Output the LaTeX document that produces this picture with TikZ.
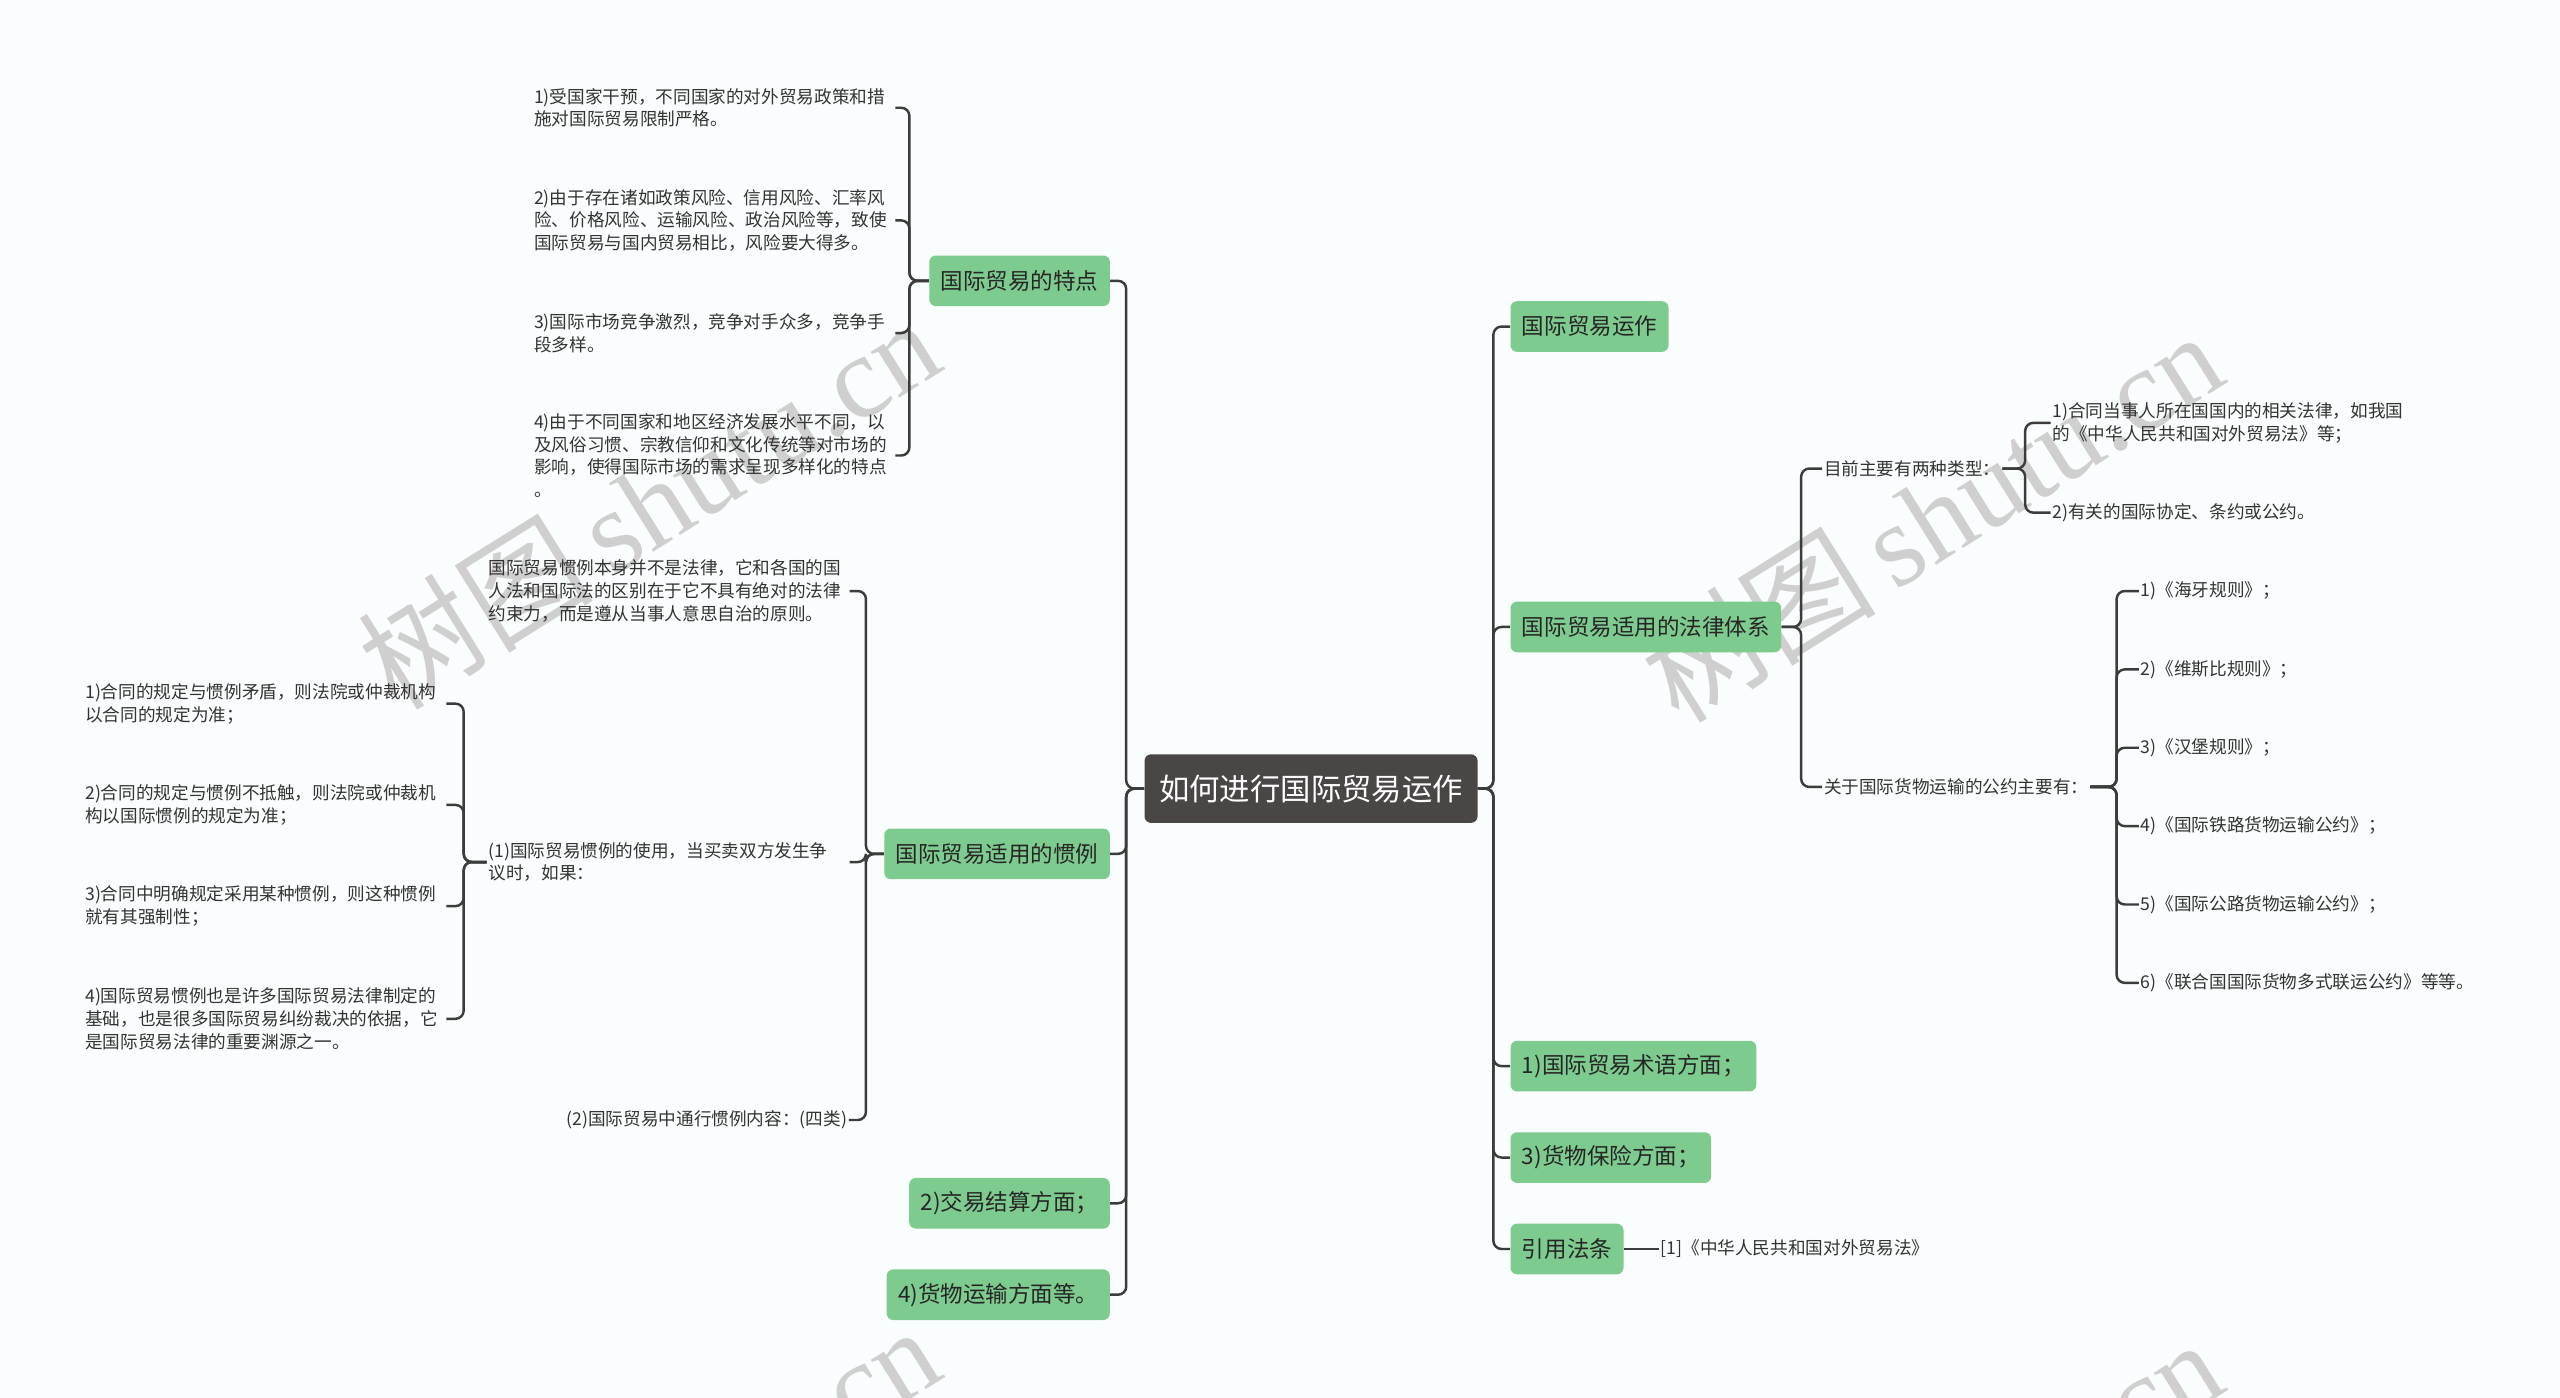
\documentclass[tikz,border=0pt]{standalone}
\usepackage{fontspec}
\setmainfont{Noto Sans CJK SC}
\newfontfamily\wmserif{Liberation Serif}
\newfontfamily\wmcjk{Noto Sans CJK SC}
\definecolor{bgc}{HTML}{FAFDFD}
\definecolor{grn}{HTML}{7ECB8F}
\definecolor{rootc}{HTML}{4B4646}
\definecolor{linec}{HTML}{3C3C3C}
\definecolor{txtc}{HTML}{333333}
\tikzset{
  conn/.style={draw=linec, line width=1.5pt, rounded corners=5pt},
  rootbox/.style={fill=rootc, rounded corners=4pt, text=white, font=\fontsize{18.6}{22}\selectfont, minimum width=204pt, minimum height=42pt, inner sep=0pt},
  lonebox/.style={fill=grn, rounded corners=4pt, text=black!85, font=\fontsize{13.8}{16}\selectfont, minimum height=31pt, inner xsep=7pt, inner ysep=0pt},
  leaf/.style={text=txtc, font=\fontsize{10.8}{14}\selectfont, inner sep=1pt, align=left},
  wleaf/.style={leaf, text width=220pt},
  wmark/.style={text=black!19, rotate=32, inner sep=0pt}
}
\begin{document}
\begin{tikzpicture}[x=1pt,y=-1pt]
\fill[bgc] (0,0) rectangle (1568,856);
\useasboundingbox (0,0) rectangle (1568,856);
% watermarks
\begin{scope}
\clip (0,0) rectangle (1568,856);
\node[wmark] (wm1) at (397,308) {\wmcjk\fontsize{72}{72}\selectfont 树图\,\wmserif shutu.cn};
\node[wmark] (wm2) at (1183,316) {\wmcjk\fontsize{72}{72}\selectfont 树图\,\wmserif shutu.cn};
\node[wmark] (wm3) at (397,925) {\wmcjk\fontsize{72}{72}\selectfont 树图\,\wmserif shutu.cn};
\node[wmark] (wm4) at (1183,933) {\wmcjk\fontsize{72}{72}\selectfont 树图\,\wmserif shutu.cn};
\end{scope}

\node[rootbox] (root) at (803,483) {如何进行国际贸易运作};

% left first level
\node[lonebox, anchor=east] (tedian) at (680,172) {国际贸易的特点};
\node[lonebox, anchor=east] (guanli) at (680,523) {国际贸易适用的惯例};
\node[lonebox, anchor=east] (jiesuan) at (680,737) {2)交易结算方面；};
\node[lonebox, anchor=east] (yunshu) at (680,793) {4)货物运输方面等。};

% right first level
\node[lonebox, anchor=west] (yunzuo) at (925,200) {国际贸易运作};
\node[lonebox, anchor=west] (falv) at (925,384) {国际贸易适用的法律体系};
\node[lonebox, anchor=west] (shuyu) at (925,653) {1)国际贸易术语方面；};
\node[lonebox, anchor=west] (baoxian) at (925,709) {3)货物保险方面；};
\node[lonebox, anchor=west] (fatiao) at (925,765) {引用法条};

\foreach \c in {tedian,guanli,jiesuan,yunshu} \draw[conn] (root.west) -- ++(-11,0) |- (\c.east);
\foreach \c in {yunzuo,falv,shuyu,baoxian,fatiao} \draw[conn] (root.east) -- ++(9.5,0) |- (\c.west);

% features
\node[wleaf, anchor=west] (t1) at (326,66) {1)受国家干预，不同国家的对外贸易政策和措\\施对国际贸易限制严格。};
\node[wleaf, anchor=west] (t2) at (326,135) {2)由于存在诸如政策风险、信用风险、汇率风\\险、价格风险、运输风险、政治风险等，致使\\国际贸易与国内贸易相比，风险要大得多。};
\node[wleaf, anchor=west] (t3) at (326,204) {3)国际市场竞争激烈，竞争对手众多，竞争手\\段多样。};
\node[wleaf, anchor=west] (t4) at (326,279) {4)由于不同国家和地区经济发展水平不同，以\\及风俗习惯、宗教信仰和文化传统等对市场的\\影响，使得国际市场的需求呈现多样化的特点\\。};
\foreach \c in {t1,t2,t3,t4} \draw[conn] (tedian.west) -- ++(-12,0) |- (\c.east);

% customs
\node[wleaf, anchor=west] (gA) at (298,362) {国际贸易惯例本身并不是法律，它和各国的国\\人法和国际法的区别在于它不具有绝对的法律\\约束力，而是遵从当事人意思自治的原则。};
\node[wleaf, anchor=west] (gB) at (298,528) {(1)国际贸易惯例的使用，当买卖双方发生争\\议时，如果：};
\node[leaf, anchor=east] (gC) at (520,686) {(2)国际贸易中通行惯例内容：(四类)};
\foreach \c in {gA,gB,gC} \draw[conn] (guanli.west) -- ++(-11,0) |- (\c.east);

\node[wleaf, anchor=west] (b1) at (51,431) {1)合同的规定与惯例矛盾，则法院或仲裁机构\\以合同的规定为准；};
\node[wleaf, anchor=west] (b2) at (51,493) {2)合同的规定与惯例不抵触，则法院或仲裁机\\构以国际惯例的规定为准；};
\node[wleaf, anchor=west] (b3) at (51,555) {3)合同中明确规定采用某种惯例，则这种惯例\\就有其强制性；};
\node[wleaf, anchor=west] (b4) at (51,624) {4)国际贸易惯例也是许多国际贸易法律制定的\\基础，也是很多国际贸易纠纷裁决的依据，它\\是国际贸易法律的重要渊源之一。};
\foreach \c in {b1,b2,b3,b4} \draw[conn] (gB.west) -- ++(-14,0) |- (\c.east);

% legal system
\node[leaf, anchor=west] (r1) at (1116,287) {目前主要有两种类型：};
\node[leaf, anchor=west] (r2) at (1116,482) {关于国际货物运输的公约主要有：};
\foreach \c in {r1,r2} \draw[conn] (falv.east) -- ++(12,0) |- (\c.west);

\node[wleaf, anchor=west] (s1) at (1256,259) {1)合同当事人所在国国内的相关法律，如我国\\的《中华人民共和国对外贸易法》等；};
\node[leaf, anchor=west] (s2) at (1256,314) {2)有关的国际协定、条约或公约。};
\foreach \c in {s1,s2} \draw[conn] (r1.east) -- ++(14,0) |- (\c.west);

\node[leaf, anchor=west] (c1) at (1310,362) {1)《海牙规则》；};
\node[leaf, anchor=west] (c2) at (1310,410) {2)《维斯比规则》；};
\node[leaf, anchor=west] (c3) at (1310,458) {3)《汉堡规则》；};
\node[leaf, anchor=west] (c4) at (1310,506) {4)《国际铁路货物运输公约》；};
\node[leaf, anchor=west] (c5) at (1310,554) {5)《国际公路货物运输公约》；};
\node[leaf, anchor=west] (c6) at (1310,602) {6)《联合国国际货物多式联运公约》等等。};
\foreach \c in {c1,c2,c3,c4,c5,c6} \draw[conn] (r2.east) -- ++(16,0) |- (\c.west);

\node[leaf, anchor=west] (cite) at (1016,765) {[1]《中华人民共和国对外贸易法》};
\draw[conn] (fatiao.east) -- (cite.west);
\end{tikzpicture}
\end{document}
